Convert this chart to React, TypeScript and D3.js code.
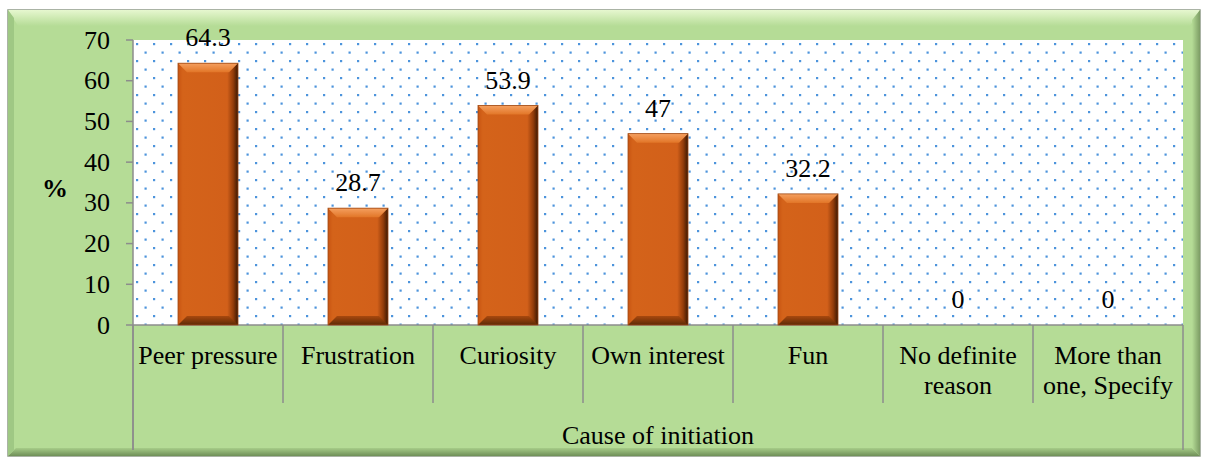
import React from "react";
import * as d3 from "d3";

const categories: string[][] = [
  ["Peer pressure"],
  ["Frustration"],
  ["Curiosity"],
  ["Own interest"],
  ["Fun"],
  ["No definite", "reason"],
  ["More than", "one, Specify"],
];
const values: number[] = [64.3, 28.7, 53.9, 47, 32.2, 0, 0];
const valueLabels: string[] = ["64.3", "28.7", "53.9", "47", "32.2", "0", "0"];
const yTicks: number[] = [0, 10, 20, 30, 40, 50, 60, 70];
const axisTitle = "Cause of initiation";
const yTitle = "%";

const W = 1205;
const H = 459;
const plot = { left: 133, right: 1183, top: 40, bottom: 325 };
const font = "Liberation Serif, Times New Roman, DejaVu Serif, serif";
const fs = 26;

export default function App() {
  const x = d3
    .scaleBand<number>()
    .domain(values.map((_, i) => i))
    .range([plot.left, plot.right])
    .paddingInner(0.6)
    .paddingOuter(0.3);
  const band = (plot.right - plot.left) / categories.length;
  const y = d3.scaleLinear().domain([0, 70]).range([plot.bottom, plot.top]);
  const bw = x.bandwidth();
  const bev = 9;
  const tStyle = { fontFamily: font, fontSize: fs };

  return (
    <svg width={W} height={H} style={{ position: "absolute", left: 0, top: 0 }}>
      <defs>
        <pattern id="dots" x={plot.left} y={plot.top} width={17} height={17} patternUnits="userSpaceOnUse">
          <rect x={3} y={3} width={2.2} height={2.2} fill="#4d94dc" />
          <rect x={11.5} y={11.5} width={2.2} height={2.2} fill="#4d94dc" />
        </pattern>
        <linearGradient id="barH" x1="0" x2="1" y1="0" y2="0">
          <stop offset="0" stopColor="#c85512" />
          <stop offset="0.08" stopColor="#d4631a" />
          <stop offset="0.82" stopColor="#d2601a" />
          <stop offset="0.92" stopColor="#933c0a" />
          <stop offset="1" stopColor="#3a1803" />
        </linearGradient>
        <linearGradient id="barTop" x1="0" x2="0" y1="0" y2="1">
          <stop offset="0" stopColor="#f5a060" />
          <stop offset="1" stopColor="#e27628" />
        </linearGradient>
        <linearGradient id="barBot" x1="0" x2="0" y1="0" y2="1">
          <stop offset="0" stopColor="#a8480e" />
          <stop offset="1" stopColor="#5e2a06" />
        </linearGradient>
        <linearGradient id="panelTop" x1="0" x2="0" y1="0" y2="1">
          <stop offset="0" stopColor="#e6f7cf" />
          <stop offset="1" stopColor="#b5dc96" />
        </linearGradient>
        <linearGradient id="panelBot" x1="0" x2="0" y1="0" y2="1">
          <stop offset="0" stopColor="#a6cc88" />
          <stop offset="1" stopColor="#6f8f58" />
        </linearGradient>
        <linearGradient id="panelRight" x1="0" x2="1" y1="0" y2="0">
          <stop offset="0" stopColor="#b5dc96" />
          <stop offset="1" stopColor="#7c9c64" />
        </linearGradient>
      </defs>

      <rect x={0} y={0} width={W} height={H} fill="#ffffff" />
      {/* outer panel */}
      <rect x={8} y={10} width={1192} height={446} fill="#b5dc96" stroke="#8f9a88" strokeWidth={1.5} />
      <polygon points={`8,10 1200,10 1190,26 18,26`} fill="url(#panelTop)" />
      <polygon points={`8,456 1200,456 1192,448 16,448`} fill="url(#panelBot)" />
      <polygon points={`1200,10 1200,456 1192,448 1192,20`} fill="url(#panelRight)" />
      <polygon points={`8,10 8,456 14,450 14,18`} fill="#9fc884" />

      {/* plot area */}
      <rect x={plot.left} y={plot.top} width={plot.right - plot.left} height={plot.bottom - plot.top} fill="#ffffff" />
      <rect x={plot.left} y={plot.top} width={plot.right - plot.left} height={plot.bottom - plot.top} fill="url(#dots)" />

      {/* y axis */}
      <line x1={plot.left} x2={plot.left} y1={plot.top} y2={450} stroke="#8c8c8c" strokeWidth={1.5} />
      {yTicks.map((t) => (
        <g key={t}>
          <line x1={plot.left - 7} x2={plot.left} y1={y(t)} y2={y(t)} stroke="#8c8c8c" strokeWidth={1.5} />
          <text x={110} y={y(t)} dy="0.33em" textAnchor="end" style={tStyle} fill="#000">
            {t}
          </text>
        </g>
      ))}
      <text x={55} y={y(33.5)} dy="0.33em" textAnchor="middle" style={tStyle} fontWeight="bold" fill="#000">
        {yTitle}
      </text>

      {/* x axis */}
      <line x1={plot.left} x2={plot.right} y1={plot.bottom} y2={plot.bottom} stroke="#8c8c8c" strokeWidth={1.5} />
      {d3.range(categories.length + 1).map((i) => {
        const xx = plot.left + i * band;
        const outer = i === 0 || i === categories.length;
        return <line key={i} x1={xx} x2={xx} y1={plot.bottom} y2={outer ? 450 : 403} stroke="#8c8c8c" strokeWidth={1.5} />;
      })}
      {categories.map((lines, i) => {
        const cx = plot.left + (i + 0.5) * band;
        return (
          <text key={i} textAnchor="middle" style={tStyle} fill="#000">
            {lines.map((l, j) => (
              <tspan key={j} x={cx} y={364 + j * 30}>
                {l}
              </tspan>
            ))}
          </text>
        );
      })}
      <text x={(plot.left + plot.right) / 2} y={444} textAnchor="middle" style={tStyle} fill="#000">
        {axisTitle}
      </text>

      {/* bars */}
      {values.map((v, i) => {
        const x0 = x(i)!;
        const x1 = x0 + bw;
        const yt = y(v);
        const yb = y(0);
        const h = yb - yt;
        if (h <= 0) return null;
        const b = Math.min(bev, h / 2);
        return (
          <g key={i}>
            <rect x={x0} y={yt} width={bw} height={h} fill="url(#barH)" />
            <polygon points={`${x0},${yt} ${x1},${yt} ${x1 - b},${yt + b} ${x0 + b},${yt + b}`} fill="url(#barTop)" />
            <polygon points={`${x0},${yb} ${x1},${yb} ${x1 - b},${yb - b} ${x0 + b},${yb - b}`} fill="url(#barBot)" />
            <rect x={x0} y={yt} width={bw} height={h} fill="none" stroke="#a04a14" strokeWidth={0.8} />
          </g>
        );
      })}

      {/* value labels */}
      {values.map((v, i) => (
        <text key={i} x={x(i)! + bw / 2} y={y(v) - 17} textAnchor="middle" style={tStyle} fill="#000">
          {valueLabels[i]}
        </text>
      ))}
    </svg>
  );
}
